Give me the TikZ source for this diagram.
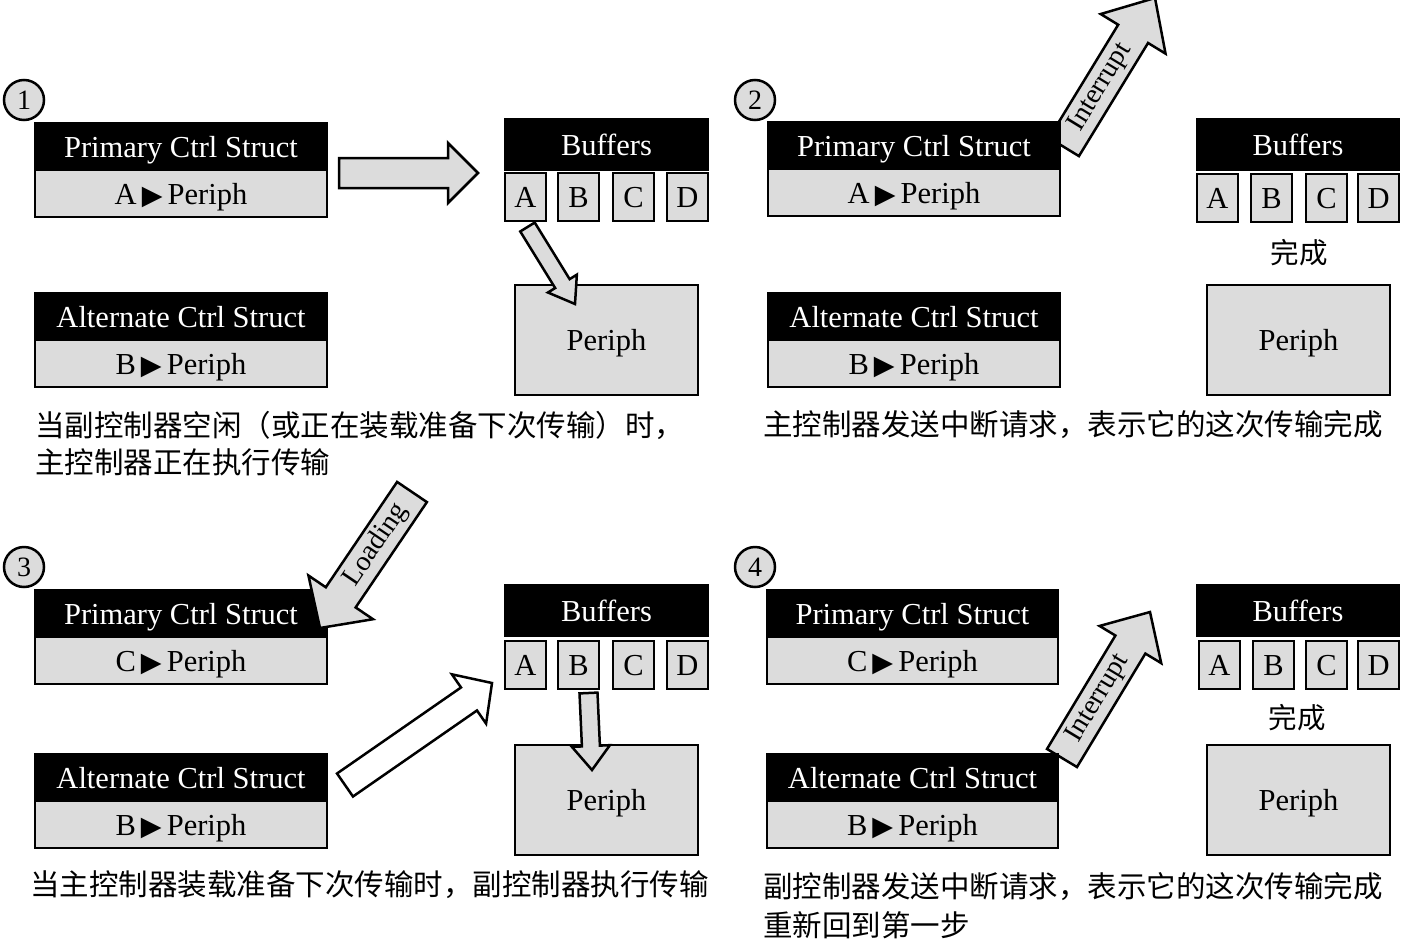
\documentclass[tikz,border=0pt]{standalone}
\usepackage{fontspec}
\setmainfont{Liberation Serif}
\newfontfamily\cjkf{Noto Sans CJK SC}
\newfontfamily\symf{DejaVu Sans}
\usetikzlibrary{calc}
\definecolor{gbox}{HTML}{DCDCDC}
\newcommand\tri{{\symf\fontsize{27}{27}\selectfont ▶}}
\newcommand\ctrlbox[6]{% name, left, top, width, header, body
  \node[hdr, minimum width=#4pt, anchor=north west] (#1h) at (#2,#3) {#5};
  \node[body, minimum width=#4pt, anchor=north] (#1b) at (#1h.south) {#6};
}
\newcommand\bufset[8]{% name, left, top, width, celltop, xA, xB, xC
  \node[hdr, minimum width=#4pt, minimum height=51pt, anchor=north west] (#1h) at (#2,#3) {Buffers};
  \node[cell] (#1A) at (#6,#5) {A};
  \node[cell] (#1B) at (#7,#5) {B};
  \node[cell] (#1C) at (#8,#5) {C};
}
\newcommand\blkarrow[6][]{% style, start, tip, half shaft, half head, head length
  \coordinate (bhd) at ($(#3)!#6pt!(#2)$);
  \draw[blk,#1] ($(#2)!#4pt!90:(#3)$) -- ($(bhd)!#4pt!90:(#3)$) -- ($(bhd)!#5pt!90:(#3)$) -- (#3)
     -- ($(bhd)!#5pt!-90:(#3)$) -- ($(bhd)!#4pt!-90:(#3)$) -- ($(#2)!#4pt!-90:(#3)$) -- cycle;
}
\begin{document}
\begin{tikzpicture}[x=1pt,y=-1pt,
  txt/.style={font=\fontsize{30.5}{31}\selectfont, text height=21pt, text depth=0pt, outer sep=0pt},
  hdr/.style={txt, draw=black, fill=black, text=white, line width=2.5pt, inner sep=0pt, minimum height=47pt},
  body/.style={txt, draw=black, fill=gbox, line width=2.5pt, inner sep=0pt, minimum height=47pt},
  cell/.style={txt, draw=black, fill=gbox, line width=2.5pt, inner sep=0pt, minimum width=41pt, minimum height=48pt, anchor=north west},
  per/.style={txt, draw=black, fill=gbox, line width=2.5pt, inner sep=0pt, minimum width=183pt, minimum height=110pt, anchor=north west},
  num/.style={circle, draw=black, fill=gbox, line width=2.5pt, minimum size=40pt, inner sep=0pt, font=\fontsize{28}{28}\selectfont},
  capt/.style={anchor=west, inner sep=0pt, font=\cjkf\fontsize{29.5}{37}\selectfont},
  done/.style={inner sep=0pt, font=\cjkf\fontsize{28.5}{30}\selectfont},
  blk/.style={draw=black, line width=2.5pt, line join=miter, fill=gbox},
  lbl/.style={sloped, inner sep=0pt, font=\fontsize{28}{28}\selectfont}]
\useasboundingbox (0,0) rectangle (1401,940);
\fill[white] (0,0) rectangle (1401,940);

% arrow end points
\coordinate (i2s) at (1064,147); \coordinate (i2t) at (1155,-2);
\coordinate (i4s) at (1062,758); \coordinate (i4t) at (1150,612);
\coordinate (l3s) at (412,492);  \coordinate (l3t) at (320,628);

% interrupt arrows (behind the boxes)
\blkarrow{i2s}{i2t}{17.5}{38}{42}
\path (i2s) -- (i2t) node[lbl, pos=0.4] {Interrupt};
\blkarrow{i4s}{i4t}{17.5}{36}{38}
\path (i4s) -- (i4t) node[lbl, pos=0.41] {Interrupt};

% ---------- panel 1 ----------
\node[num] (n1) at (24,100) {1};
\ctrlbox{p1}{35}{123}{292}{Primary Ctrl Struct}{A\,\tri\,Periph}
\ctrlbox{a1}{35}{293}{292}{Alternate Ctrl Struct}{B\,\tri\,Periph}
\bufset{b1}{505}{119}{203}{173}{505}{558}{613}
\node[cell] (b1D) at (667,173) {D};
\node[per] (r1) at (515,285) {Periph};
\coordinate (m1s) at (339,173); \coordinate (m1t) at (478,173);
\blkarrow{m1s}{m1t}{15}{30}{30}
\coordinate (q1s) at ($(b1A.south)+(2,6)$); \coordinate (q1t) at (575,304);
\blkarrow{q1s}{q1t}{8.5}{17}{24}
\node[capt] (t1a) at (35,425) {当副控制器空闲（或正在装载准备下次传输）时，};
\node[capt] (t1b) at (35,462) {主控制器正在执行传输};

% ---------- panel 2 ----------
\node[num] (n2) at (755,100) {2};
\ctrlbox{p2}{768}{122}{292}{Primary Ctrl Struct}{A\,\tri\,Periph}
\ctrlbox{a2}{768}{293}{292}{Alternate Ctrl Struct}{B\,\tri\,Periph}
\bufset{b2}{1197}{119}{202}{174}{1197}{1251}{1306}
\node[cell] (b2D) at (1358,174) {D};
\node[done] (d2) at (1299,253) {完成};
\node[per] (r2) at (1207,285) {Periph};
\node[capt] (t2a) at (763,425) {主控制器发送中断请求，表示它的这次传输完成};

% ---------- panel 3 ----------
\node[num] (n3) at (24,567) {3};
\ctrlbox{p3}{35}{590}{292}{Primary Ctrl Struct}{C\,\tri\,Periph}
\ctrlbox{a3}{35}{754}{292}{Alternate Ctrl Struct}{B\,\tri\,Periph}
\bufset{b3}{505}{585}{203}{641}{505}{558}{613}
\node[cell] (b3D) at (667,641) {D};
\node[per] (r3) at (515,745) {Periph};
\blkarrow{l3s}{l3t}{18}{39}{37}
\path (l3s) -- (l3t) node[lbl, pos=0.39] {Loading};
\coordinate (w3s) at (345,785); \coordinate (w3t) at (492,683);
\blkarrow[fill=white]{w3s}{w3t}{14}{30}{28}
\coordinate (q3s) at ($(b3B.south)+(10,4)$); \coordinate (q3t) at (592,770);
\blkarrow{q3s}{q3t}{9}{19}{24}
\node[capt] (t3a) at (30,885) {当主控制器装载准备下次传输时，副控制器执行传输};

% ---------- panel 4 ----------
\node[num] (n4) at (755,567) {4};
\ctrlbox{p4}{767}{590}{291}{Primary Ctrl Struct}{C\,\tri\,Periph}
\ctrlbox{a4}{767}{754}{291}{Alternate Ctrl Struct}{B\,\tri\,Periph}
\bufset{b4}{1197}{585}{202}{641}{1199}{1253}{1306}
\node[cell] (b4D) at (1358,641) {D};
\node[done] (d4) at (1297,718) {完成};
\node[per] (r4) at (1207,745) {Periph};
\node[capt] (t4a) at (763,887) {副控制器发送中断请求，表示它的这次传输完成};
\node[capt] (t4b) at (763,925) {重新回到第一步};
\end{tikzpicture}
\end{document}
